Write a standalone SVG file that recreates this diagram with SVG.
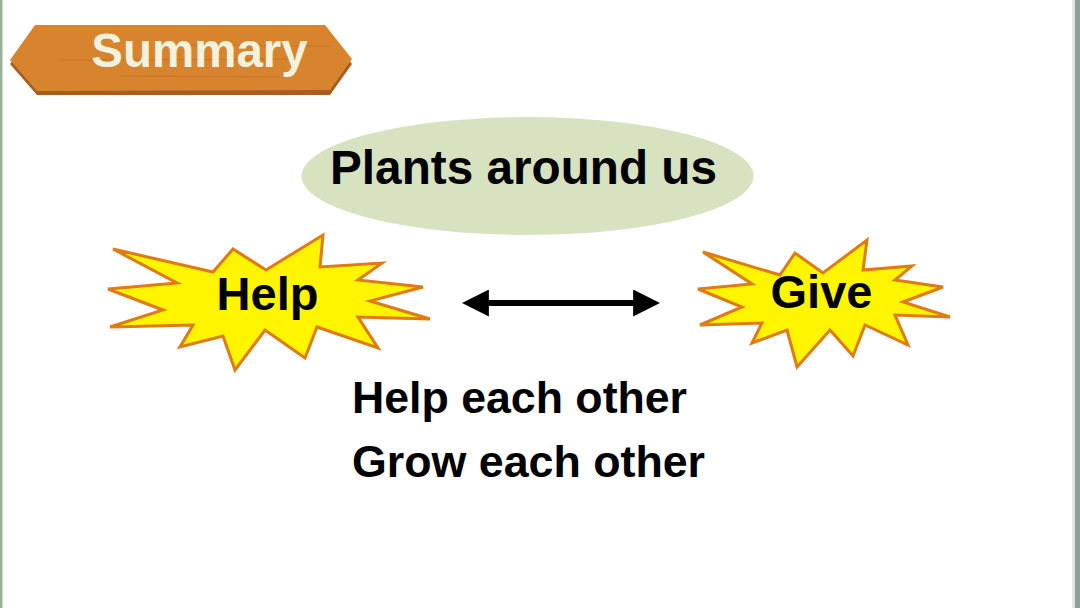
<svg xmlns="http://www.w3.org/2000/svg" width="1080" height="608" viewBox="0 0 1080 608">
  <style>
    .star { fill: #FFF500; stroke: #E07A12; stroke-width: 3; stroke-linejoin: miter; }
    .bold { font-family: "Liberation Sans", Arial, sans-serif; font-weight: bold; fill: #000000; }
  </style>
  <defs>
    <marker id="head" viewBox="0 0 10 10" refX="7" refY="5" markerWidth="4.5" markerHeight="4.5" orient="auto-start-reverse" markerUnits="strokeWidth">
      <path d="M0,0 L10,5 L0,10 Z" fill="#000000"/>
    </marker>
  </defs>
  <rect x="0" y="0" width="1080" height="608" fill="#FFFFFF"/>
  <rect x="0" y="0" width="2.5" height="608" fill="#9CB39A"/>
  <rect x="1075" y="0" width="5" height="608" fill="#8E9E9A"/>
  <rect x="1072" y="0" width="3" height="608" fill="#E4E4E4"/>

  <g id="summary-banner">
    <polygon points="10,64 36,31 326,31 352,64 330,95 37,95" fill="#A95C22"/>
    <polygon points="10,60 35,25 325,25 352,59 330,90 37,91" fill="#D8842F"/>
    <path d="M60,60 L300,59 M180,45 L330,46 M120,76 L280,77" stroke="#C46F26" stroke-width="1.5" fill="none" opacity="0.6"/>
    <text x="199.5" y="67" text-anchor="middle" font-family="Liberation Sans, Arial, sans-serif" font-weight="bold" font-size="47.5" fill="#F3F2DC">Summary</text>
  </g>

  <g id="topic">
    <ellipse cx="527.5" cy="176" rx="226" ry="59" fill="#D7E3C0"/>
    <text class="bold" x="523.5" y="184" text-anchor="middle" font-size="47.7">Plants around us</text>
  </g>

  <g id="help">
    <polygon class="star" points="113,249 213,272 233,249 266,270 323,235 320,267 382,263 358,280 423,287 370,301 430,319 358,317 378,348 317,327 305,358 265,330 235,370 223,336 180,347 193,325 110,327 163,310 108,289 177,283"/>
    <text class="bold" x="267.5" y="310" text-anchor="middle" font-size="47">Help</text>
  </g>

  <g id="give">
    <polygon class="star" points="703,252 780,275 795,253 823,273 867,240 863,270 912,266 895,280 943,287 903,302 950,317 895,315 908,345 865,325 853,356 830,330 797,367 787,330 752,343 762,323 700,325 742,307 698,289 752,284"/>
    <text class="bold" x="821.5" y="308" text-anchor="middle" font-size="47">Give</text>
  </g>

  <g id="connectors">
    <line x1="470" y1="303" x2="652" y2="303" stroke="#000000" stroke-width="6" marker-start="url(#head)" marker-end="url(#head)"/>
  </g>

  <g id="notes">
    <text class="bold" x="352" y="413" font-size="44.8" textLength="335" lengthAdjust="spacingAndGlyphs">Help each other</text>
    <text class="bold" x="352" y="477" font-size="44.8" textLength="353" lengthAdjust="spacingAndGlyphs">Grow each other</text>
  </g>
</svg>
